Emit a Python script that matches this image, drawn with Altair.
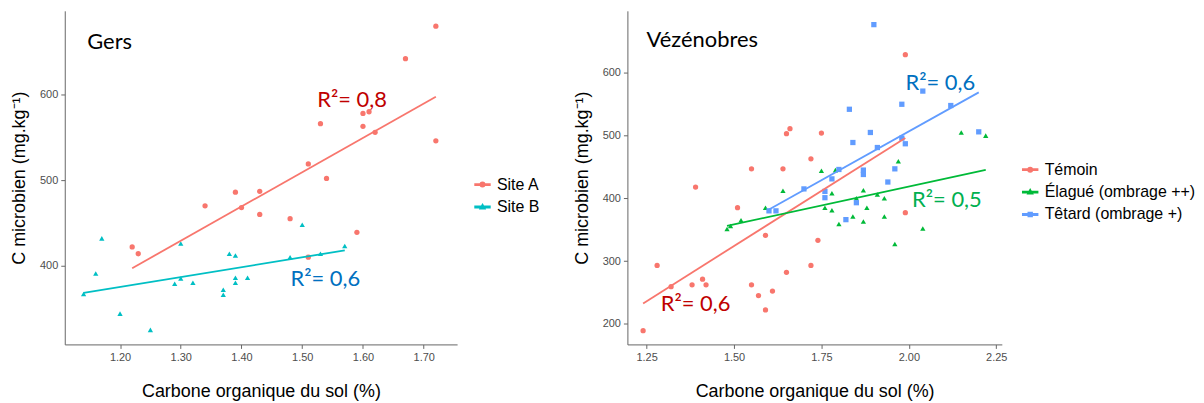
import altair as alt
import pandas as pd

# ---------------- Data: Gers ----------------
siteA_carbone = [1.22, 1.23, 1.34, 1.39, 1.40, 1.43, 1.43, 1.48, 1.51, 1.51,
                 1.53, 1.54, 1.59, 1.60, 1.60, 1.61, 1.62, 1.67, 1.72, 1.72]
siteA_cmic = [422, 414, 470, 486, 468, 487, 460, 455, 519, 410,
              566, 502, 439, 563, 578, 580, 556, 642, 680, 546]
siteB_carbone = [1.14, 1.16, 1.17, 1.20, 1.25, 1.29, 1.30, 1.30, 1.32, 1.37,
                 1.37, 1.38, 1.39, 1.39, 1.39, 1.41, 1.48, 1.50, 1.53, 1.57]
siteB_cmic = [367, 391, 432, 344, 325, 379, 385, 426, 380, 372,
              366, 414, 412, 386, 380, 386, 410, 448, 414, 423]

# ---------------- Data: Vézénobres ----------------
temoin_carbone = [1.24, 1.28, 1.32, 1.38, 1.39, 1.41, 1.42, 1.51, 1.55, 1.55,
                  1.57, 1.59, 1.59, 1.61, 1.64, 1.65, 1.66, 1.65, 1.72, 1.72,
                  1.74, 1.75, 1.99, 1.99]
temoin_cmic = [189, 293, 259, 262, 418, 271, 262, 385, 447, 262,
               245, 341, 222, 252, 447, 503, 511, 282, 463, 293,
               333, 504, 629, 377]
elague_carbone = [1.48, 1.49, 1.52, 1.59, 1.64, 1.75, 1.76, 1.78, 1.78, 1.79,
                  1.80, 1.84, 1.85, 1.87, 1.87, 1.88, 1.91, 1.93, 1.93, 1.96,
                  1.97, 2.04, 2.15, 2.22]
elague_cmic = [351, 356, 365, 385, 412, 444, 385, 408, 381, 445,
               359, 371, 400, 413, 363, 385, 406, 400, 371, 327,
               459, 352, 505, 500]
tetard_carbone = [1.60, 1.62, 1.70, 1.76, 1.76, 1.78, 1.80, 1.82, 1.83, 1.84,
                  1.85, 1.87, 1.87, 1.89, 1.90, 1.91, 1.94, 1.96, 1.98, 1.98,
                  1.99, 2.04, 2.12, 2.20]
tetard_cmic = [380, 380, 415, 411, 401, 431, 446, 366, 542, 489,
               393, 445, 438, 505, 677, 481, 426, 447, 550, 496,
               487, 571, 548, 506]

gers_groups = ["Site A", "Site B"]
vez_groups = ["Témoin", "Élagué (ombrage ++)", "Têtard (ombrage +)"]

gers_colors = ["#F8766D", "#00BFC4"]
vez_colors = ["#F8766D", "#00BA38", "#619CFF"]

# annotations (label, x, y, colour)
gers_r2_labels = ["R²= 0,8", "R²= 0,6"]
gers_r2_x = [1.582, 1.538]
gers_r2_y = [594, 384]
gers_r2_col = ["#C00000", "#0070C0"]

vez_r2_labels = ["R²= 0,6", "R²= 0,5", "R²= 0,6"]
vez_r2_x = [2.090, 2.109, 1.390]
vez_r2_y = [584, 397, 232]
vez_r2_col = ["#0070C0", "#00B050", "#C00000"]

# ---------------- Tables ----------------
gers = pd.DataFrame({
    "carbone": siteA_carbone + siteB_carbone,
    "cmic": siteA_cmic + siteB_cmic,
    "site": ["Site A"] * len(siteA_cmic) + ["Site B"] * len(siteB_cmic),
})

vez = pd.DataFrame({
    "carbone": temoin_carbone + elague_carbone + tetard_carbone,
    "cmic": temoin_cmic + elague_cmic + tetard_cmic,
    "site": [vez_groups[0]] * len(temoin_cmic) + [vez_groups[1]] * len(elague_cmic)
            + [vez_groups[2]] * len(tetard_cmic),
})

LINE = "M-1,-0.09H1V0.09H-1Z "
LEG_CIRCLE = LINE + "M-0.3,0A0.3,0.3 0 1,0 0.3,0A0.3,0.3 0 1,0 -0.3,0Z"
LEG_TRI = LINE + "M0,-0.34L0.32,0.22L-0.32,0.22Z"
LEG_SQUARE = LINE + "M-0.26,-0.26H0.26V0.26H-0.26Z"

TXT_FONT = "Lato"
AX_FONT = "Liberation Sans"


def make_legend(legx, legy):
    return alt.Legend(title=None, orient="none", legendX=legx, legendY=legy,
                      labelFont=AX_FONT, labelFontSize=16, labelColor="black",
                      symbolOpacity=1, symbolSize=225, rowPadding=5.5,
                      labelOffset=6, padding=0)


def panel(df, groups, colors, shapes, legshapes, xdom, ydom, xticks, yticks,
          title_txt, title_x, title_y, labels, lx, ly, lcols, legx, legy, width, height):
    xs = alt.Scale(domain=xdom, nice=False, zero=False)
    ys = alt.Scale(domain=ydom, nice=False, zero=False)
    x = alt.X("carbone:Q", scale=xs,
              axis=alt.Axis(values=xticks, format=".2f", title="Carbone organique du sol (%)",
                            titlePadding=20))
    y = alt.Y("cmic:Q", scale=ys,
              axis=alt.Axis(values=yticks, format="d", title="C microbien (mg.kg⁻¹)",
                            titlePadding=11))
    cs = alt.Scale(domain=groups, range=colors)
    leg = make_legend(legx, legy)

    # legend carrier (first so its legend definition wins)
    legend_layer = alt.Chart(df).mark_point(filled=True, opacity=0, size=225).encode(
        x=x, y=y,
        color=alt.Color("site:N", scale=cs, legend=leg),
        shape=alt.Shape("site:N", scale=alt.Scale(domain=groups, range=legshapes), legend=leg),
    )
    layers = [legend_layer]
    for g, shp in zip(groups, shapes):
        layers.append(
            alt.Chart(df).transform_filter(alt.datum.site == g)
            .mark_point(filled=True, opacity=1, size=28, shape=shp)
            .encode(x=x, y=y, color=alt.Color("site:N", scale=cs, legend=None))
        )
    lines = alt.Chart(df).transform_regression(
        "carbone", "cmic", groupby=["site"]
    ).mark_line(strokeWidth=1.8).encode(
        x=x, y=y,
        color=alt.Color("site:N", scale=cs, legend=None),
    )
    layers.append(lines)
    tdf = pd.DataFrame({"carbone": [title_x], "cmic": [title_y], "t": [title_txt]})
    layers.append(alt.Chart(tdf).mark_text(font=TXT_FONT, fontSize=22, align="left",
                                           baseline="middle", color="black").encode(
        x=x, y=y, text="t:N"))
    for lab, ax_, ay_, col in zip(labels, lx, ly, lcols):
        adf = pd.DataFrame({"carbone": [ax_], "cmic": [ay_], "t": [lab]})
        layers.append(alt.Chart(adf).mark_text(font=TXT_FONT, fontSize=22, align="center",
                                               baseline="middle", color=col).encode(
            x=x, y=y, text="t:N"))
    return alt.layer(*layers).properties(width=width, height=height)


left = panel(gers, gers_groups, gers_colors, ["circle", "triangle-up"],
             [LEG_CIRCLE, LEG_TRI], [1.109, 1.755], [308, 698],
             [1.2, 1.3, 1.4, 1.5, 1.6, 1.7], [400, 500, 600],
             "Gers", 1.146, 662, gers_r2_labels, gers_r2_x, gers_r2_y, gers_r2_col,
             411, 166, 394, 335)

right = panel(vez, vez_groups, vez_colors, ["circle", "triangle-up", "square"],
              [LEG_CIRCLE, LEG_TRI, LEG_SQUARE], [1.195, 2.266], [167, 699],
              [1.25, 1.5, 1.75, 2.0, 2.25], [200, 300, 400, 500, 600],
              "Vézénobres", 1.25, 653, vez_r2_labels, vez_r2_x, vez_r2_y, vez_r2_col,
              396, 151, 376, 335)

chart = alt.hconcat(left, right, spacing=33).resolve_scale(
    x="independent", y="independent", color="independent", shape="independent"
).resolve_legend(color="independent", shape="independent").configure_view(
    stroke=None
).configure_axis(
    grid=False, domainColor="#666666", tickColor="#666666", tickSize=4,
    labelColor="#4d4d4d", labelFont=AX_FONT, labelFontSize=11, labelPadding=3,
    titleFont=AX_FONT, titleFontSize=18, titleFontWeight="normal", titleColor="black",
).properties(padding={"left": 2, "top": 2, "right": 0, "bottom": 5})

chart.save("out.html", embed_options={"renderer": "svg", "actions": False})
